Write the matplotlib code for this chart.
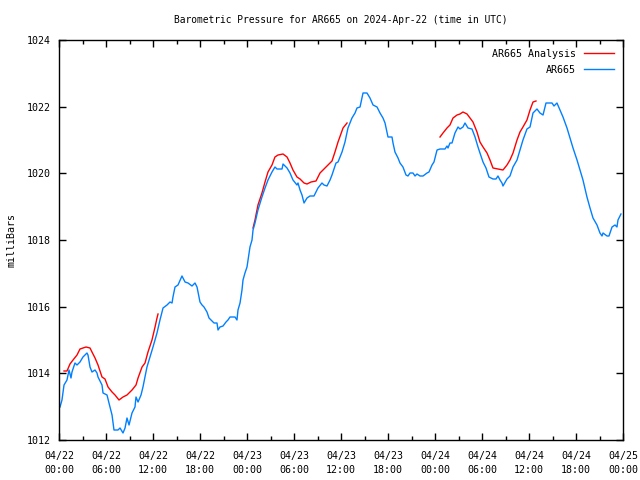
import pandas as pd
import matplotlib
matplotlib.use('Agg')
import matplotlib.pyplot as plt
import matplotlib.dates as mdates

# readings: hours since 2024-04-22 00:00 UTC, pressure in mbar
obs_hours = [0.13, 0.38, 0.64, 1.02, 1.28, 1.53, 1.66, 2.04, 2.30, 2.68, 3.06, 3.57, 3.70, 3.96,
             4.21, 4.60, 4.85, 4.98, 5.49, 5.62, 6.13, 6.38, 6.77, 7.02, 7.53, 7.79, 8.17, 8.43,
             8.68, 8.94, 9.32, 9.70, 9.83, 10.09, 10.47, 10.72, 11.23, 11.62, 12.0, 12.51, 12.89,
             13.28, 13.79, 14.17, 14.43, 14.55, 14.81, 15.19, 15.70, 16.09, 16.47, 16.98, 17.36,
             17.62, 18.0, 18.26, 18.51, 18.89, 19.15, 19.53, 19.79, 20.17, 20.30, 20.55, 20.94,
             21.32, 21.57, 21.83, 22.47, 22.72, 22.85, 23.11, 23.36, 23.49, 23.74, 24.0, 24.13,
             24.38, 24.64, 24.77, 25.02, 25.40, 25.91, 26.30, 26.68, 27.19, 27.57, 27.83, 28.47,
             28.60, 29.11, 29.49, 29.87, 30.38, 30.51, 30.77, 31.02, 31.28, 31.66, 32.04, 32.55,
             32.81, 33.06, 33.57, 33.83, 34.21, 34.60, 34.85, 35.36, 35.62, 36.13, 36.51, 36.89,
             37.40, 37.79, 38.04, 38.43, 38.81, 39.32, 39.70, 40.09, 40.60, 40.98, 41.36, 41.62,
             42.0, 42.51, 42.64, 42.89, 43.28, 43.53, 43.91, 44.30, 44.55, 44.81, 45.19, 45.45,
             45.70, 46.09, 46.47, 46.98, 47.23, 47.62, 47.87, 48.26, 48.64, 49.28, 49.53, 49.66,
             49.91, 50.17, 50.55, 50.94, 51.19, 51.57, 51.83, 52.21, 52.72, 53.11, 53.49, 53.74,
             54.13, 54.51, 54.89, 55.40, 55.79, 56.04, 56.30, 56.55, 56.68, 57.19, 57.57, 57.96,
             58.47, 58.85, 59.23, 59.74, 60.13, 60.51, 61.02, 61.40, 61.79, 62.17, 62.94, 63.19,
             63.57, 63.96, 64.34, 64.85, 65.23, 65.62, 66.13, 66.51, 66.89, 67.40, 67.79, 68.17,
             68.68, 69.06, 69.32, 69.45, 69.96, 70.21, 70.60, 70.98, 71.23, 71.36, 71.74]
obs_mbar = [1012.99, 1013.20, 1013.65, 1013.80, 1014.10, 1013.86, 1014.04, 1014.31, 1014.25,
            1014.34, 1014.49, 1014.61, 1014.55, 1014.19, 1014.04, 1014.10, 1014.01, 1013.89,
            1013.65, 1013.41, 1013.35, 1013.11, 1012.75, 1012.30, 1012.30, 1012.36, 1012.21,
            1012.36, 1012.66, 1012.45, 1012.81, 1012.99, 1013.29, 1013.14, 1013.35, 1013.59,
            1014.19, 1014.49, 1014.79, 1015.21, 1015.60, 1015.96, 1016.05, 1016.14, 1016.11,
            1016.29, 1016.59, 1016.65, 1016.92, 1016.74, 1016.71, 1016.62, 1016.71, 1016.59,
            1016.14, 1016.05, 1015.99, 1015.84, 1015.66, 1015.57, 1015.51, 1015.51, 1015.30,
            1015.39, 1015.42, 1015.54, 1015.60, 1015.69, 1015.69, 1015.60, 1015.90, 1016.11,
            1016.50, 1016.80, 1017.01, 1017.19, 1017.40, 1017.79, 1018.00, 1018.30, 1018.51,
            1018.90, 1019.29, 1019.56, 1019.80, 1020.04, 1020.19, 1020.13, 1020.13, 1020.28,
            1020.16, 1020.01, 1019.80, 1019.65, 1019.71, 1019.50, 1019.35, 1019.11, 1019.26,
            1019.32, 1019.32, 1019.44, 1019.56, 1019.71, 1019.65, 1019.62, 1019.80, 1019.95,
            1020.31, 1020.34, 1020.64, 1020.94, 1021.36, 1021.66, 1021.81, 1021.96, 1021.99,
            1022.41, 1022.41, 1022.26, 1022.05, 1021.99, 1021.81, 1021.66, 1021.51, 1021.09,
            1021.09, 1020.91, 1020.64, 1020.46, 1020.31, 1020.19, 1019.95, 1019.92, 1020.01,
            1020.01, 1019.92, 1019.98, 1019.92, 1019.92, 1020.01, 1020.04, 1020.25, 1020.34,
            1020.70, 1020.73, 1020.73, 1020.82, 1020.76, 1020.91, 1020.91, 1021.21, 1021.39,
            1021.33, 1021.39, 1021.51, 1021.36, 1021.33, 1021.09, 1020.79, 1020.61, 1020.34,
            1020.16, 1019.89, 1019.83, 1019.83, 1019.92, 1019.80, 1019.71, 1019.62, 1019.83,
            1019.92, 1020.19, 1020.40, 1020.70, 1021.00, 1021.33, 1021.39, 1021.81, 1021.93,
            1021.81, 1021.75, 1022.11, 1022.11, 1022.02, 1022.11, 1021.90, 1021.69, 1021.36,
            1021.06, 1020.76, 1020.40, 1020.10, 1019.80, 1019.29, 1018.96, 1018.66, 1018.45,
            1018.21, 1018.12, 1018.21, 1018.12, 1018.12, 1018.39, 1018.45, 1018.39, 1018.60,
            1018.78]

# analysis comes in three separate runs
ana1_hours = [0.64, 1.02, 1.40, 1.79, 2.30, 2.68, 3.45, 3.96, 4.21, 4.60, 4.98, 5.49, 5.87, 6.26,
              6.77, 7.15, 7.66, 8.17, 8.68, 9.32, 9.83, 10.09, 10.60, 10.98, 11.36, 11.87, 12.26,
              12.51, 12.64]
ana1_mbar = [1014.07, 1014.07, 1014.28, 1014.40, 1014.55, 1014.73, 1014.79, 1014.76, 1014.64,
             1014.46, 1014.25, 1013.89, 1013.83, 1013.59, 1013.44, 1013.35, 1013.20, 1013.29,
             1013.35, 1013.50, 1013.65, 1013.86, 1014.19, 1014.31, 1014.64, 1015.00, 1015.39,
             1015.66, 1015.78]
ana2_hours = [24.77, 25.02, 25.40, 25.91, 26.30, 26.68, 27.19, 27.57, 27.96, 28.60, 29.11, 29.49,
              29.87, 30.38, 30.77, 31.28, 31.66, 32.17, 32.81, 33.32, 33.83, 34.34, 34.85, 35.23,
              35.62, 36.26, 36.77]
ana2_mbar = [1018.36, 1018.60, 1019.05, 1019.41, 1019.74, 1020.04, 1020.25, 1020.49, 1020.55,
             1020.58, 1020.49, 1020.31, 1020.10, 1019.89, 1019.83, 1019.71, 1019.68, 1019.74,
             1019.77, 1020.01, 1020.13, 1020.25, 1020.37, 1020.64, 1020.94, 1021.36, 1021.51]
ana3_hours = [48.64, 49.02, 49.53, 49.91, 50.30, 50.81, 51.19, 51.57, 52.09, 52.47, 52.85, 53.36,
              53.74, 54.13, 54.64, 55.02, 55.40, 56.04, 56.68, 57.19, 57.57, 57.96, 58.47, 58.85,
              59.23, 59.74, 60.13, 60.51, 60.89]
ana3_mbar = [1021.09, 1021.21, 1021.36, 1021.45, 1021.66, 1021.75, 1021.78, 1021.84, 1021.78,
             1021.66, 1021.54, 1021.24, 1020.94, 1020.79, 1020.61, 1020.40, 1020.16, 1020.13,
             1020.10, 1020.25, 1020.40, 1020.61, 1021.00, 1021.24, 1021.39, 1021.60, 1021.90,
             1022.14, 1022.17]

start = pd.Timestamp('2024-04-22 00:00')
end = pd.Timestamp('2024-04-25 00:00')

def to_time(hours):
    return start + pd.to_timedelta(hours, unit='h')

plt.rcParams['font.family'] = 'DejaVu Sans Mono'
plt.rcParams['font.size'] = 7.2

fig = plt.figure(figsize=(6.4, 4.8), dpi=100)
ax = fig.add_axes([59 / 640, 40 / 480, 564 / 640, 400 / 480])

red = '#ff0000'
blue = '#0080ff'
ax.plot(to_time(ana1_hours), ana1_mbar, color=red, lw=1, label='AR665 Analysis')
ax.plot(to_time(ana2_hours), ana2_mbar, color=red, lw=1)
ax.plot(to_time(ana3_hours), ana3_mbar, color=red, lw=1)
ax.plot(to_time(obs_hours), obs_mbar, color=blue, lw=1, label='AR665')

ax.set_xlim(start, end)
ax.set_ylim(1012, 1024)
ax.set_yticks(range(1012, 1025, 2))
ax.xaxis.set_major_locator(mdates.HourLocator(byhour=[0, 6, 12, 18]))
ax.xaxis.set_minor_locator(mdates.HourLocator(byhour=[3, 9, 15, 21]))
ax.xaxis.set_major_formatter(mdates.DateFormatter('%m/%d\n%H:%M'))
for lbl in ax.get_xticklabels():
    lbl.set_linespacing(1.5)
ax.tick_params(which='both', direction='in', top=True, right=True, color='black')
ax.tick_params(which='major', length=5, width=1)
ax.tick_params(axis='x', which='major', pad=8)
ax.tick_params(axis='y', which='major', pad=6)
ax.tick_params(which='minor', length=3, width=1)
for s in ax.spines.values():
    s.set_linewidth(1)

ax.set_title('Barometric Pressure for AR665 on 2024-Apr-22 (time in UTC)', fontsize=6.9, pad=12)
ax.set_ylabel('milliBars', labelpad=7)

ax.legend(loc='upper right', frameon=False, markerfirst=False, handlelength=3.0,
          borderaxespad=0.5, labelspacing=0.6, handletextpad=0.8)

fig.savefig('out.png', dpi=100)
